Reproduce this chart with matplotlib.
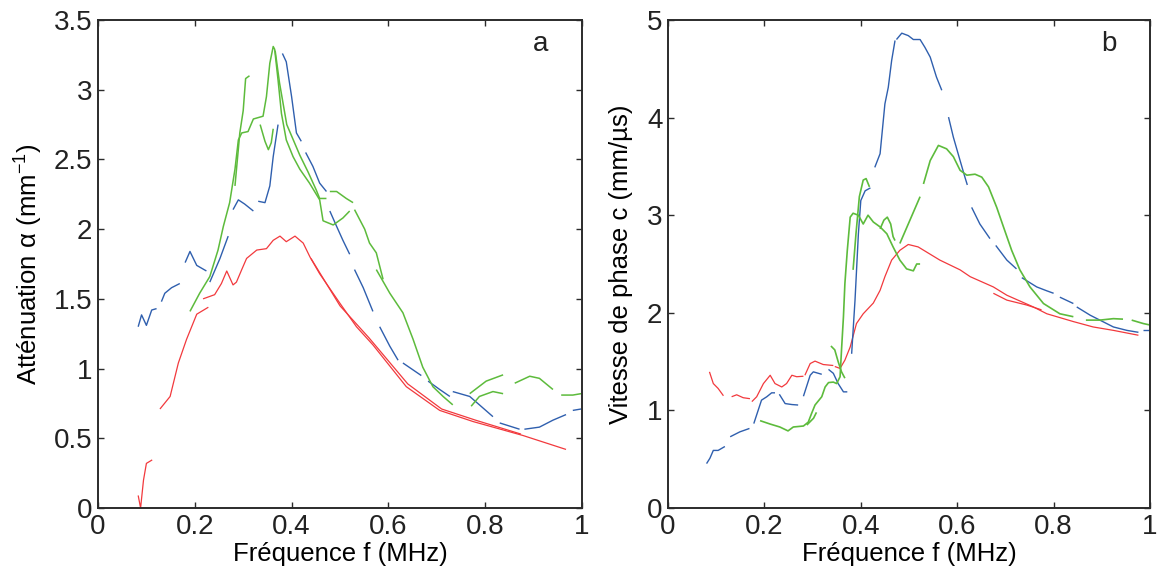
import matplotlib

matplotlib.use("Agg")
import matplotlib.pyplot as plt

# frequency f (MHz) / value pairs, one tuple per measured stretch
# panel a: attenuation (mm^-1)
a_red = [
    ([0.083, 0.088, 0.094, 0.100, 0.112], [0.09, 0.0, 0.20, 0.32, 0.345]),
    ([0.128, 0.149, 0.166, 0.183, 0.204, 0.228], [0.71, 0.80, 1.04, 1.21, 1.39, 1.44]),
    ([0.217, 0.241, 0.255, 0.266, 0.279, 0.286, 0.297, 0.307, 0.328, 0.348, 0.362,
      0.376, 0.389, 0.407, 0.424, 0.438, 0.458, 0.4995, 0.534, 0.568, 0.637, 0.706,
      0.775, 0.878, 0.967],
     [1.50, 1.53, 1.61, 1.70, 1.60, 1.62, 1.71, 1.79, 1.85, 1.86, 1.92,
      1.95, 1.91, 1.95, 1.90, 1.80, 1.68, 1.47, 1.30, 1.17, 0.87, 0.70,
      0.62, 0.52, 0.42]),
    ([0.44, 0.5, 0.56, 0.64, 0.71, 0.78, 0.874],
     [1.79, 1.45, 1.22, 0.89, 0.71, 0.63, 0.53]),
]
a_blue = [
    ([0.083, 0.090, 0.100, 0.111, 0.121], [1.30, 1.385, 1.31, 1.42, 1.43]),
    ([0.131, 0.138, 0.152, 0.169], [1.48, 1.54, 1.58, 1.61]),
    ([0.180, 0.190, 0.204, 0.224], [1.76, 1.84, 1.74, 1.70]),
    ([0.231, 0.252, 0.269], [1.62, 1.79, 1.95]),
    ([0.279, 0.290, 0.303, 0.321], [2.14, 2.21, 2.18, 2.13]),
    ([0.331, 0.345, 0.355, 0.362, 0.372], [2.20, 2.19, 2.31, 2.52, 2.75]),
    ([0.381, 0.389, 0.400, 0.410, 0.420], [3.26, 3.20, 2.95, 2.69, 2.63]),
    ([0.429, 0.444, 0.458, 0.472], [2.55, 2.45, 2.33, 2.27]),
    ([0.479, 0.493, 0.506, 0.520], [2.13, 2.02, 1.92, 1.82]),
    ([0.530, 0.548, 0.568], [1.71, 1.58, 1.41]),
    ([0.582, 0.603, 0.620], [1.30, 1.16, 1.06]),
    ([0.630, 0.668], [1.04, 0.95]),
    ([0.682, 0.706, 0.727], [0.91, 0.85, 0.80]),
    ([0.733, 0.768, 0.788, 0.816], [0.835, 0.80, 0.74, 0.655]),
    ([0.830, 0.871], [0.61, 0.565]),
    ([0.881, 0.912, 0.940, 0.967], [0.565, 0.58, 0.63, 0.67]),
    ([0.981, 0.998], [0.70, 0.71]),
]
a_green = [
    ([0.190, 0.210, 0.231, 0.248, 0.259, 0.272, 0.283, 0.290, 0.297, 0.310, 0.321,
      0.331, 0.341, 0.348, 0.355, 0.362, 0.365, 0.372, 0.379, 0.389, 0.403, 0.417,
      0.437, 0.458, 0.465, 0.486, 0.506, 0.520],
     [1.41, 1.54, 1.66, 1.85, 2.02, 2.19, 2.43, 2.64, 2.69, 2.70, 2.79,
      2.80, 2.81, 2.95, 3.19, 3.31, 3.29, 3.07, 2.83, 2.64, 2.52, 2.43,
      2.33, 2.21, 2.06, 2.03, 2.08, 2.13]),
    ([0.283, 0.293, 0.300, 0.305, 0.313], [2.31, 2.69, 2.85, 3.08, 3.10]),
    ([0.335, 0.345, 0.352, 0.358, 0.362], [2.75, 2.63, 2.57, 2.62, 2.72]),
    ([0.366, 0.375, 0.390, 0.417, 0.434, 0.451, 0.458, 0.472],
     [3.28, 3.05, 2.75, 2.53, 2.41, 2.28, 2.22, 2.22]),
    ([0.479, 0.493, 0.513, 0.527], [2.27, 2.27, 2.22, 2.19]),
    ([0.530, 0.551, 0.561, 0.575, 0.589], [2.14, 2.00, 1.90, 1.83, 1.64]),
    ([0.575, 0.603, 0.630, 0.651, 0.671, 0.692, 0.713, 0.733],
     [1.71, 1.54, 1.40, 1.21, 1.01, 0.87, 0.80, 0.74]),
    ([0.768, 0.802, 0.837], [0.82, 0.91, 0.955]),
    ([0.771, 0.788, 0.816, 0.837], [0.73, 0.80, 0.835, 0.82]),
    ([0.861, 0.892, 0.912, 0.940], [0.895, 0.945, 0.93, 0.85]),
    ([0.957, 0.981, 0.998], [0.81, 0.81, 0.82]),
]

# panel b: phase velocity (mm/us)
b_red = [
    ([0.086, 0.094, 0.104, 0.115], [1.395, 1.275, 1.225, 1.15]),
    ([0.132, 0.1425, 0.156, 0.170], [1.14, 1.16, 1.13, 1.12]),
    ([0.174, 0.184, 0.198, 0.212, 0.222, 0.236, 0.246, 0.257, 0.267, 0.281],
     [1.09, 1.14, 1.275, 1.36, 1.275, 1.24, 1.275, 1.36, 1.345, 1.35]),
    ([0.284, 0.295, 0.305, 0.322, 0.343], [1.36, 1.48, 1.505, 1.47, 1.46]),
    ([0.346, 0.357, 0.367, 0.378, 0.391, 0.405, 0.426, 0.440, 0.450, 0.464, 0.481,
      0.4985, 0.519, 0.564, 0.606, 0.627, 0.675, 0.703, 0.758, 0.786, 0.841, 0.882,
      0.924, 0.976],
     [1.45, 1.43, 1.515, 1.65, 1.89, 1.99, 2.10, 2.23, 2.37, 2.54, 2.64,
      2.70, 2.675, 2.54, 2.44, 2.37, 2.265, 2.18, 2.06, 1.99, 1.91, 1.855,
      1.82, 1.77]),
    ([0.675, 0.703, 0.744, 0.775], [2.20, 2.13, 2.08, 2.03]),
]
b_blue = [
    ([0.080, 0.087, 0.094, 0.104, 0.118], [0.455, 0.51, 0.59, 0.59, 0.63]),
    ([0.129, 0.149, 0.169], [0.73, 0.78, 0.815]),
    ([0.178, 0.187, 0.194, 0.205, 0.215, 0.222], [0.865, 1.00, 1.105, 1.14, 1.18, 1.18]),
    ([0.231, 0.243, 0.257, 0.270], [1.165, 1.07, 1.06, 1.055]),
    ([0.281, 0.295, 0.3015, 0.319], [1.145, 1.36, 1.395, 1.37]),
    ([0.333, 0.343, 0.353, 0.364, 0.372], [1.42, 1.38, 1.275, 1.19, 1.19]),
    ([0.381, 0.388, 0.395, 0.400, 0.409, 0.420], [1.58, 2.13, 2.81, 3.15, 3.25, 3.28]),
    ([0.429, 0.440, 0.450, 0.457, 0.464, 0.471], [3.49, 3.63, 4.14, 4.31, 4.585, 4.79]),
    ([0.474, 0.485, 0.4985, 0.509, 0.523, 0.533, 0.544, 0.557, 0.568],
     [4.80, 4.865, 4.84, 4.80, 4.80, 4.72, 4.62, 4.415, 4.28]),
    ([0.582, 0.592, 0.606, 0.616, 0.621], [4.005, 3.80, 3.56, 3.39, 3.31]),
    ([0.630, 0.647, 0.668], [3.08, 2.91, 2.76]),
    ([0.680, 0.703, 0.723], [2.69, 2.54, 2.45]),
    ([0.734, 0.765, 0.786, 0.800], [2.36, 2.265, 2.225, 2.20]),
    ([0.813, 0.841], [2.16, 2.095]),
    ([0.848, 0.876, 0.882, 0.924, 0.952, 0.976], [2.06, 1.975, 1.96, 1.855, 1.82, 1.80]),
    ([0.986, 1.0], [1.82, 1.82]),
]
b_green = [
    ([0.191, 0.212, 0.232, 0.249, 0.260, 0.281, 0.291, 0.298, 0.305, 0.319, 0.326,
      0.333, 0.343, 0.350, 0.357, 0.360, 0.364, 0.367, 0.372, 0.378, 0.384, 0.395,
      0.405, 0.415, 0.426, 0.440, 0.454, 0.467, 0.481, 0.495, 0.509, 0.516, 0.523],
     [0.895, 0.86, 0.83, 0.79, 0.83, 0.84, 0.88, 0.97, 1.055, 1.14, 1.24,
      1.285, 1.29, 1.275, 1.345, 1.62, 1.96, 2.30, 2.64, 2.98, 3.02, 3.00,
      2.91, 3.00, 2.93, 2.88, 2.81, 2.675, 2.54, 2.45, 2.43, 2.50, 2.50]),
    ([0.288, 0.302, 0.308], [0.85, 0.92, 0.98]),
    ([0.338, 0.346, 0.353, 0.360, 0.367], [1.66, 1.62, 1.50, 1.395, 1.33]),
    ([0.384, 0.390, 0.397, 0.405, 0.411, 0.418], [2.44, 2.81, 3.19, 3.36, 3.375, 3.29]),
    ([0.440, 0.448, 0.455, 0.462, 0.467, 0.471], [2.86, 2.95, 2.98, 2.91, 2.78, 2.74]),
    ([0.481, 0.502, 0.523], [2.71, 2.95, 3.19]),
    ([0.530, 0.544, 0.561, 0.578, 0.592, 0.606, 0.620, 0.637, 0.651, 0.665, 0.682,
      0.696, 0.713, 0.730, 0.751, 0.779, 0.813, 0.841],
     [3.32, 3.56, 3.715, 3.68, 3.60, 3.46, 3.41, 3.42, 3.39, 3.29, 3.08,
      2.88, 2.64, 2.44, 2.265, 2.095, 1.99, 1.96]),
    ([0.867, 0.896, 0.924, 0.944], [1.925, 1.925, 1.94, 1.935]),
    ([0.962, 0.986, 1.0], [1.925, 1.89, 1.875]),
]

BLUE = "#2f5fae"
GREEN = "#5dbb3c"
RED = "#f2393d"

plt.rcParams.update({
    "font.family": ["Liberation Sans", "DejaVu Sans"],
    "mathtext.fontset": "custom",
    "mathtext.rm": "Liberation Sans",
    "mathtext.it": "Liberation Sans:italic",
    "axes.edgecolor": "#2b2b2b",
    "axes.linewidth": 1.4,
    "xtick.direction": "in",
    "ytick.direction": "in",
    "xtick.top": True,
    "ytick.right": True,
    "xtick.major.size": 4,
    "ytick.major.size": 4,
    "xtick.major.width": 1.0,
    "ytick.major.width": 1.0,
    "xtick.color": "#2b2b2b",
    "ytick.color": "#2b2b2b",
    "xtick.labelcolor": "#222222",
    "ytick.labelcolor": "#222222",
})

fig = plt.figure(figsize=(11.6, 5.79), dpi=100)
ax_a = fig.add_axes([98 / 1160, 71 / 579, 484 / 1160, 488 / 579])
ax_b = fig.add_axes([668 / 1160, 71 / 579, 482 / 1160, 488 / 579])


def draw(ax, groups):
    for segs, color, lw in groups:
        for xs, ys in segs:
            ax.plot(xs, ys, color=color, lw=lw, solid_capstyle="butt")


draw(ax_a, [(a_red, RED, 0.9), (a_blue, BLUE, 1.0), (a_green, GREEN, 1.1)])
draw(ax_b, [(b_red, RED, 0.9), (b_blue, BLUE, 1.0), (b_green, GREEN, 1.2)])

ax_a.set_xlim(0, 1)
ax_a.set_ylim(0, 3.5)
ax_a.set_xticks([0, 0.2, 0.4, 0.6, 0.8, 1])
ax_a.set_xticklabels(["0", "0.2", "0.4", "0.6", "0.8", "1"])
ax_a.set_yticks([0, 0.5, 1, 1.5, 2, 2.5, 3, 3.5])
ax_a.set_yticklabels(["0", "0.5", "1", "1.5", "2", "2.5", "3", "3.5"])
ax_a.set_ylabel("Atténuation α (mm$^{-1}$)", fontsize=18.5, labelpad=6)

ax_b.set_xlim(0, 1)
ax_b.set_ylim(0, 5)
ax_b.set_xticks([0, 0.2, 0.4, 0.6, 0.8, 1])
ax_b.set_xticklabels(["0", "0.2", "0.4", "0.6", "0.8", "1"])
ax_b.set_yticks([0, 1, 2, 3, 4, 5])
ax_b.set_ylabel("Vitesse de phase c (mm/µs)", fontsize=18.5, labelpad=10)

for ax, tag in [(ax_a, "a"), (ax_b, "b")]:
    ax.tick_params(labelsize=20, pad=4)
    ax.set_xlabel("Fréquence f (MHz)", fontsize=18.5, labelpad=2)
    ax.text(0.915, 0.95, tag, transform=ax.transAxes, fontsize=20,
            ha="center", va="center", color="#222222")

fig.savefig("out.png", dpi=100)
